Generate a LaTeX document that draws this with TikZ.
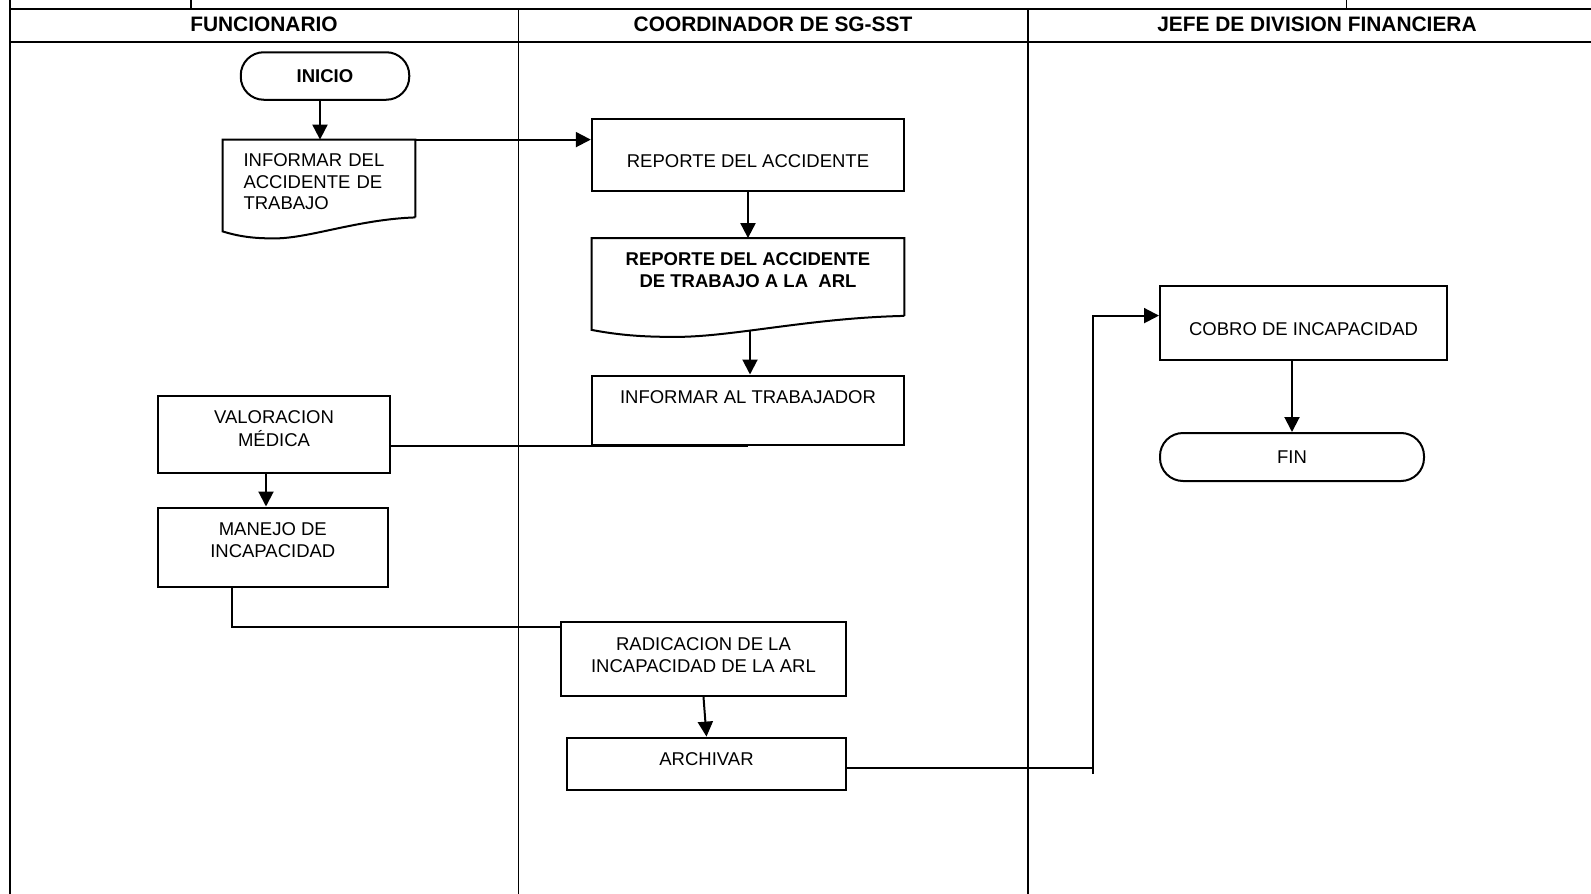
\documentclass[tikz,border=0pt]{standalone}
\usepackage{fontspec}
\setmainfont{Liberation Sans}
\usepackage{tikz}
\usetikzlibrary{positioning,arrows.meta,calc}

\newcommand{\nudge}[3][c]{\raisebox{#2}[\height][\depth]{\begin{tabular}{@{}#1@{}}#3\end{tabular}}}
\newcommand{\docoutline}[1]{%
  \draw[line width=1pt] (#1.south east) -- (#1.north east) -- (#1.north west) -- ($(#1.south west)+(0,14)$)
    .. controls ($(#1.south west)!0.1!(#1.south east)+(0,20)$) and ($(#1.south west)!0.18!(#1.south east)+(0,21)$) .. ($(#1.south west)!0.27!(#1.south east)+(0,21)$)
    .. controls ($(#1.south west)!0.45!(#1.south east)+(0,21)$) and ($(#1.south west)!0.7!(#1.south east)+(0,2)$) .. (#1.south east);}

\begin{document}
\begin{tikzpicture}[x=0.5pt,y=-0.5pt,
    every node/.style={font=\fontsize{9.25}{10.9}\selectfont},
    lanehead/.style={font=\fontsize{10.45}{12}\selectfont\bfseries},
    box/.style={draw,line width=1pt,inner sep=0pt},
    term/.style={box,rounded corners=11.5pt},
    doc/.style={inner sep=0pt},
    link/.style={line width=1pt},
    arr/.style={link,-{Triangle[length=7.5pt,width=7.5pt]}}]
      \useasboundingbox (0,0) rectangle (1591,894);
      % Frame and lanes
      \draw[line width=1pt] (10,0) -- (10,894);
      \draw[line width=0.8pt] (191,0) -- (191,9) (1346.5,0) -- (1346.5,9);
      \draw[line width=1.4pt] (10,9) -- (1591,9) (10,42) -- (1591,42);
      \draw[line width=0.8pt] (518.5,9) -- (518.5,894);
      \draw[line width=1pt] (1028,9) -- (1028,894);
      \node[lanehead] (hfun) at (264,24.4) {FUNCIONARIO};
      \node[lanehead] (hcoord) at (773,24.4) {COORDINADOR DE SG-SST};
      \node[lanehead] (hjefe) at (1317,24.4) {JEFE DE DIVISION FINANCIERA};
      % Steps
      \node[term,minimum width=84.25pt,minimum height=23.75pt,font=\fontsize{9.25}{10.9}\selectfont\bfseries] (inicio) at (325,76) {INICIO};
      \node[doc,minimum width=96pt,minimum height=38.5pt,text width=75.5pt,align=left] (informar) at (319,178.5) {\nudge[l]{-2.6pt}{INFORMAR DEL\\ACCIDENTE DE\\TRABAJO}};
      \node[box,minimum width=156.2pt,minimum height=36pt] (reporte) at (748,154.75) {\nudge{-4.1pt}{REPORTE DEL ACCIDENTE}};
      \node[doc,minimum width=156pt,minimum height=38.5pt,font=\fontsize{9.25}{10.9}\selectfont\bfseries] (reporteARL) at (748,277) {\nudge{2.4pt}{REPORTE DEL ACCIDENTE\\DE TRABAJO A LA\ \ ARL}};
      \node[box,minimum width=156pt,minimum height=34.5pt] (informarT) at (748,410) {\nudge{5.4pt}{INFORMAR AL TRABAJADOR}};
      \node[box,minimum width=116pt,minimum height=38.6pt] (valoracion) at (274,434.4) {\nudge{2pt}{VALORACION\\MÉDICA}};
      \node[box,minimum width=114.8pt,minimum height=39.5pt] (manejo) at (272.8,547) {\nudge{2.4pt}{MANEJO DE\\INCAPACIDAD}};
      \node[box,minimum width=142.5pt,minimum height=37pt] (radicacion) at (703.5,659) {\nudge{0.8pt}{RADICACION DE LA\\INCAPACIDAD DE LA ARL}};
      \node[box,minimum width=139.5pt,minimum height=26.4pt] (archivar) at (706.5,764) {\nudge{1.4pt}{ARCHIVAR}};
      \node[box,minimum width=143.5pt,minimum height=37pt] (cobro) at (1303.5,323) {\nudge{-4.1pt}{COBRO DE INCAPACIDAD}};
      \node[term,minimum width=132pt,minimum height=24pt] (fin) at (1292,457) {FIN};
      % Document outlines
      \docoutline{informar}
      \docoutline{reporteARL}
      % Flow
      \draw[arr] ([xshift=-2.5pt]inicio.south) -- ([xshift=-2.5pt]inicio.south |- informar.north);
      \draw[arr] (informar.north east) -- (informar.north east -| reporte.west);
      \draw[arr] (reporte.south) -- (reporteARL.north);
      \draw[arr] ($(reporteARL.south)+(2,14)$) -- ($(informarT.north)+(2,0)$);
      \draw[link] (valoracion.east |- informarT.south) -- (informarT.south);
      \draw[arr] ([xshift=-4pt]valoracion.south) -- ([xshift=-4pt]valoracion.south |- manejo.north);
      \draw[link] ([xshift=-20.4pt]manejo.south) |- ([yshift=-3pt]radicacion.north west);
      \draw[arr] (radicacion.south) -- (archivar.north);
      \coordinate (bend) at (1093,774);
      \draw[link] ([yshift=-2pt]archivar.east) -- ([yshift=-2pt]archivar.east -| bend);
      \draw[arr] (bend) |- ([yshift=3.7pt]cobro.west);
      \draw[arr] (fin.north |- cobro.south) -- (fin.north);
    \end{tikzpicture}
\end{document}
